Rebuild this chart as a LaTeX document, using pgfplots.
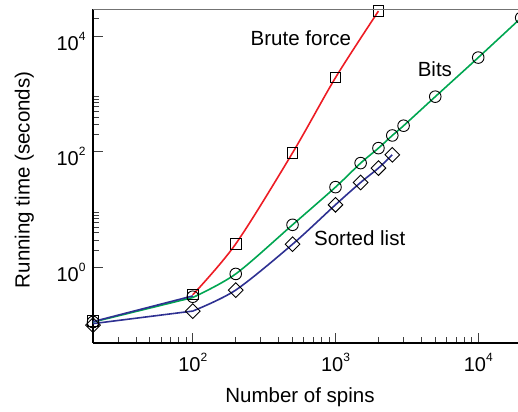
\documentclass[border=0pt]{standalone}
\usepackage{fontspec}
\setmainfont{Liberation Sans}
\usepackage{pgfplots}
\pgfplotsset{compat=1.18}
\definecolor{bfred}{HTML}{ED1C24}
\definecolor{bitgreen}{HTML}{00A651}
\definecolor{sortblue}{HTML}{2E3192}
% power-of-ten tick label in the text font
\newcommand{\pw}[1]{10\raisebox{10pt}{\fontsize{12}{12}\selectfont #1}}

\begin{document}
\begin{tikzpicture}
\begin{axis}[
  scale only axis, width=425pt, height=333.7pt,
  xmode=log, ymode=log,
  xmin=20, xmax=1.9e4, ymin=0.05, ymax=2.9e4,
  clip=false,
  axis x line*=bottom, axis y line*=left,
  axis line style={-, black, line width=1.1pt},
  tick align=inside,
  major tick length=10pt, minor tick length=6pt,
  tick style={black!75, line width=0.9pt},
  xtick={100,1000,10000}, xticklabels={\pw{2},\pw{3},\pw{4}},
  minor xtick={30,40,50,60,70,80,90,200,300,400,500,600,700,800,900,2000,3000,4000,5000,6000,7000,8000,9000},
  ytick={1,100,10000}, yticklabels={\pw{0},\pw{2},\pw{4}},
  minor ytick={2,3,4,5,6,7,8,9,200,300,400,500,600,700,800,900,20000},
  tick label style={font=\fontsize{20}{24}\selectfont},
  xticklabel style={yshift=-6.3pt},
  yticklabel style={xshift=-4pt, yshift=-5pt},
  label style={font=\fontsize{20.5}{24}\selectfont},
  xlabel={Number of spins},
  xlabel style={at={(axis description cs:0.487,0)}, anchor=base, yshift=-60pt},
  ylabel={Running time (seconds)},
  ylabel style={at={(axis description cs:-0.149,0.489)}, anchor=base},
  every axis plot/.append style={line width=1.6pt},
]
% brute force
\addplot[bfred, smooth] coordinates {(100,0.34) (200,2.57) (500,96) (1000,1914) (2000,27000)};
% bits
\addplot[bitgreen] coordinates {(20,0.115) (100,0.305)};
\addplot[bitgreen, smooth] coordinates {(100,0.305) (200,0.78) (500,5.5) (1000,24.6) (1500,64) (2000,116) (2500,192) (3000,283) (5000,898) (10000,4250) (20000,20700)};
% sorted list
\addplot[sortblue] coordinates {(20,0.108) (100,0.178)};
\addplot[sortblue, smooth] coordinates {(100,0.178) (200,0.41) (500,2.54) (1000,12.2) (1500,29.6) (2000,52.5) (2500,89)};
% brute force, first segment
\addplot[sortblue] coordinates {(20,0.117) (100,0.325)};
% markers
\addplot[only marks, mark=square, mark size=5.3pt, mark options={black, line width=0.9pt}]
  coordinates {(20,0.121) (100,0.345) (200,2.57) (500,96) (1000,1914) (2000,27000)};
\addplot[only marks, mark=o, mark size=5.8pt, mark options={black, line width=0.9pt}]
  coordinates {(20,0.115) (100,0.315) (200,0.78) (500,5.5) (1000,24.6) (1500,64) (2000,116) (2500,192) (3000,283) (5000,898) (10000,4250) (20000,20700)};
\addplot[only marks, mark=square, mark size=5.2pt, mark options={black, line width=0.9pt, rotate=45}]
  coordinates {(20,0.102) (100,0.178) (200,0.41) (500,2.54) (1000,12.2) (1500,29.6) (2000,52.5) (2500,89)};
\node[anchor=base west, inner sep=0pt, font=\fontsize{20.5}{24}\selectfont] at (axis cs:254,6850) {Brute force};
\node[anchor=base west, inner sep=0pt, font=\fontsize{20.5}{24}\selectfont] at (axis cs:3760,2015) {Bits};
\node[anchor=base west, inner sep=0pt, font=\fontsize{20.5}{24}\selectfont] at (axis cs:706,2.4) {Sorted list};
\end{axis}
\draw[black!55, line width=1pt] (current axis.north west) -- (current axis.north east);
\pgfresetboundingbox
\path ([shift={(-93pt,-69pt)}]current axis.south west) rectangle ([shift={(0pt,9.3pt)}]current axis.north east);
\end{tikzpicture}
\end{document}
